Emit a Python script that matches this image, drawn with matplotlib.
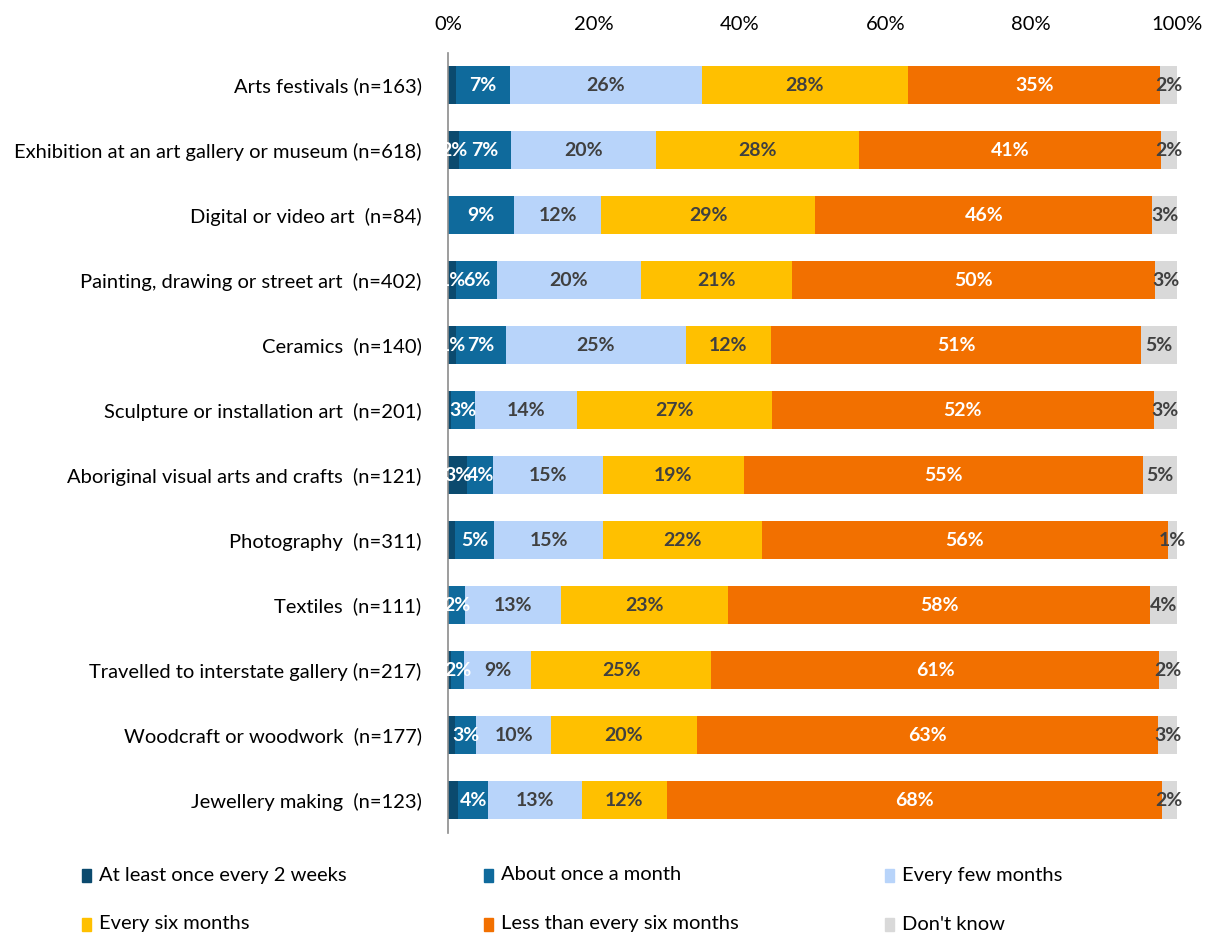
import matplotlib.pyplot as plt
from matplotlib.patches import Rectangle

plt.rcParams['font.family'] = ['Lato', 'DejaVu Sans']

# Categories (top to bottom)
categories = [
    'Arts festivals (n=163)',
    'Exhibition at an art gallery or museum (n=618)',
    'Digital or video art  (n=84)',
    'Painting, drawing or street art  (n=402)',
    'Ceramics  (n=140)',
    'Sculpture or installation art  (n=201)',
    'Aboriginal visual arts and crafts  (n=121)',
    'Photography  (n=311)',
    'Textiles  (n=111)',
    'Travelled to interstate gallery (n=217)',
    'Woodcraft or woodwork  (n=177)',
    'Jewellery making  (n=123)',
]

# Series values (%)
two_weeks = [1.1, 1.5, 0.0, 1.1, 1.1, 0.4, 2.6, 1.0, 0.0, 0.4, 0.9, 1.4]
monthly = [7.4, 7.1, 9.1, 5.6, 6.9, 3.3, 3.6, 5.3, 2.3, 1.8, 3.0, 4.1]
few_months = [26.3, 20.0, 11.9, 19.8, 24.6, 14.0, 15.0, 15.0, 13.2, 9.2, 10.2, 12.9]
six_months = [28.3, 27.8, 29.4, 20.7, 11.7, 26.7, 19.4, 21.8, 22.9, 24.7, 20.0, 11.6]
less_often = [34.6, 41.4, 46.2, 49.8, 50.8, 52.4, 54.7, 55.6, 57.9, 61.4, 63.3, 67.9]
dont_know = [2.3, 2.2, 3.4, 3.0, 4.9, 3.2, 4.7, 1.3, 3.7, 2.5, 2.6, 2.1]

# Which labels of the first series are shown in the original
two_weeks_shown = [False, True, False, True, True, False, True, False, False, False, False, False]

series_names = ['At least once every 2 weeks', 'About once a month', 'Every few months',
                'Every six months', 'Less than every six months', "Don't know"]
series_colors = ['#0b4a6e', '#0f6a9c', '#b8d4fa', '#ffc000', '#f27000', '#d9d9d9']
label_colors = ['white', 'white', '#404040', '#404040', 'white', '#404040']

series = [two_weeks, monthly, few_months, six_months, less_often, dont_know]

fig = plt.figure(figsize=(12.05, 9.34), dpi=100)
ax = fig.add_axes([448 / 1205, 1 - 832.5 / 934, 729 / 1205, 780 / 934])

y = list(range(len(categories)))
left = [0.0] * len(categories)
for i, vals in enumerate(series):
    bars = ax.barh(y, vals, left=left, height=0.57, color=series_colors[i], edgecolor='none')
    for j, (b, v) in enumerate(zip(bars, vals)):
        if v <= 0:
            continue
        if i == 0 and not two_weeks_shown[j]:
            continue
        cx = left[j] + v / 2
        ax.text(cx, j, f'{round(v)}%', ha='center', va='center', fontsize=14,
                fontweight='bold', color=label_colors[i])
    left = [l + v for l, v in zip(left, vals)]

ax.set_xlim(0, 100)
ax.set_ylim(len(categories) - 0.5, -0.5)
ax.set_yticks(y)
ax.set_yticklabels(categories, fontsize=14.5)
ax.set_xticks(range(0, 101, 20))
ax.set_xticklabels([f'{t}%' for t in range(0, 101, 20)], fontsize=14.5)
ax.xaxis.tick_top()
ax.tick_params(axis='y', length=0, pad=19)
ax.tick_params(axis='x', length=0, pad=14)
for s in ['top', 'right', 'bottom']:
    ax.spines[s].set_visible(False)
ax.spines['left'].set_color('#8c8c8c')
ax.spines['left'].set_linewidth(1.2)

# Legend laid out like the original (3 columns, 2 rows)
col_x = [82, 484, 885]
row_y = [875, 924]
for k, name in enumerate(series_names):
    r, c = divmod(k, 3)
    x0 = col_x[c] / 1205
    y0 = 1 - row_y[r] / 934
    fig.patches.append(Rectangle((x0, y0 - 6.5 / 934), 9 / 1205, 13 / 934,
                                 transform=fig.transFigure, color=series_colors[k]))
    fig.text(x0 + 17 / 1205, y0, name, fontsize=14.5, va='center', ha='left')

fig.savefig('out.png', dpi=100)
